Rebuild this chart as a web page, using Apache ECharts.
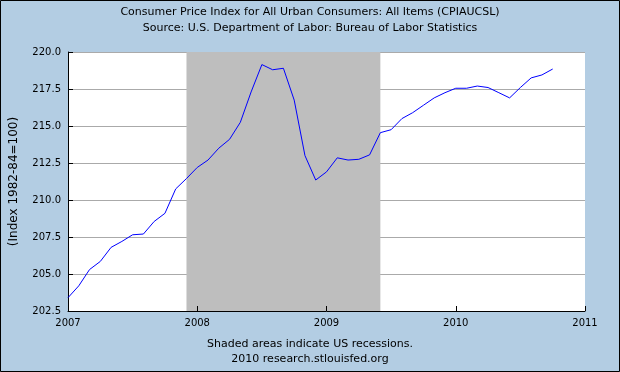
<!DOCTYPE html>
<html>
<head>
<meta charset="utf-8">
<script src="https://cdn.jsdelivr.net/npm/echarts@6/dist/echarts.min.js"></script>
<style>
html,body{margin:0;padding:0;background:#B3CDE3;}
#chart{width:620px;height:372px;}
</style>
</head>
<body>
<div id="chart"></div>
<script>
// Monthly dates (YYYY-MM) and CPI values
var months = ['2007-01','2007-02','2007-03','2007-04','2007-05','2007-06','2007-07','2007-08','2007-09','2007-10','2007-11','2007-12',
              '2008-01','2008-02','2008-03','2008-04','2008-05','2008-06','2008-07','2008-08','2008-09','2008-10','2008-11','2008-12',
              '2009-01','2009-02','2009-03','2009-04','2009-05','2009-06','2009-07','2009-08','2009-09','2009-10','2009-11','2009-12',
              '2010-01','2010-02','2010-03','2010-04','2010-05','2010-06','2010-07','2010-08','2010-09','2010-10'];
var cpiValues = [203.4,204.2,205.3,205.85,206.8,207.2,207.65,207.7,208.55,209.1,210.75,211.45,
                 212.2,212.7,213.5,214.1,215.25,217.3,219.15,218.8,218.9,216.75,213.0,211.35,
                 211.9,212.85,212.7,212.75,213.05,214.55,214.75,215.5,215.9,216.4,216.9,217.25,
                 217.55,217.55,217.7,217.6,217.25,216.9,217.6,218.25,218.45,218.85];
var recessionStart = '2007-12';
var recessionEnd = '2009-06';
var xTickLabels = ['2007','2008','2009','2010','2011'];
var yTicks = [202.5,205.0,207.5,210.0,212.5,215.0,217.5,220.0];

var titleText = 'Consumer Price Index for All Urban Consumers: All Items (CPIAUCSL)';
var subtitleText = 'Source: U.S. Department of Labor: Bureau of Labor Statistics';
var noteText = 'Shaded areas indicate US recessions.';
var creditText = '2010 research.stlouisfed.org';
var yAxisName = '(Index 1982-84=100)';

function toYear(s){ var p = s.split('-'); return +p[0] + (+p[1]-1)/12; }
var seriesData = months.map(function(m,i){ return [toYear(m), cpiValues[i]]; });

var FONT = 'DejaVu Sans';
var chart = echarts.init(document.getElementById('chart'), null, {renderer:'canvas'});
var tStyle = {fontSize:11, fontWeight:'normal', color:'#000', fontFamily:FONT};
chart.setOption({
  backgroundColor:'#B3CDE3',
  animation:false,
  title:[
    {text:titleText, left:'center', top:7, padding:0, textStyle:tStyle},
    {text:subtitleText, left:'center', top:23, padding:0, textStyle:tStyle},
    {text:noteText, left:'center', top:339, padding:0, textStyle:tStyle},
    {text:creditText, left:'center', top:354, padding:0, textStyle:tStyle}
  ],
  graphic:[{type:'rect', shape:{x:0.5,y:0.5,width:619,height:371}, style:{fill:null, stroke:'#000', lineWidth:1}, z:100}],
  grid:{left:67, right:35, top:52, bottom:61, show:true, backgroundColor:'#fff', borderWidth:0},
  xAxis:{
    type:'value', min:+xTickLabels[0], max:+xTickLabels[xTickLabels.length-1], interval:1, z:3,
    axisLine:{show:true, onZero:false, lineStyle:{color:'#000', width:1}},
    axisTick:{show:true, inside:true, length:5, lineStyle:{color:'#000'}},
    axisLabel:{margin:7, fontSize:10, color:'#000', fontFamily:FONT, formatter:function(v){return String(Math.round(v));}},
    splitLine:{show:false}
  },
  yAxis:{
    type:'value', min:yTicks[0], max:yTicks[yTicks.length-1], interval:2.5,
    name:yAxisName, nameLocation:'middle', nameGap:48, nameRotate:90,
    nameTextStyle:{fontSize:12, color:'#000', fontFamily:FONT},
    axisLine:{show:true, lineStyle:{color:'#000', width:1}},
    axisTick:{show:true, inside:true, length:5, lineStyle:{color:'#000'}},
    axisLabel:{margin:7, fontSize:10, color:'#000', fontFamily:FONT, formatter:function(v){return v.toFixed(1);}},
    splitLine:{show:true, lineStyle:{color:'#AAAAAA', width:1}}
  },
  series:[{
    type:'line', data:seriesData, symbol:'none', showSymbol:false,
    lineStyle:{color:'#0000FF', width:1}, z:2,
    markArea:{silent:true, itemStyle:{color:'#BEBEBE'},
      data:[[{xAxis:toYear(recessionStart)},{xAxis:toYear(recessionEnd)}]]}
  }]
});
</script>
</body>
</html>
